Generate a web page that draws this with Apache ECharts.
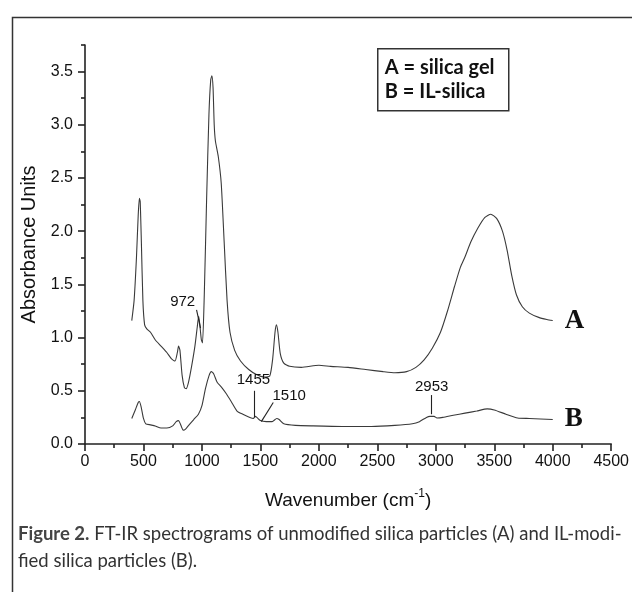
<!DOCTYPE html>
<html>
<head>
<meta charset="utf-8">
<script src="https://cdn.jsdelivr.net/npm/echarts@6/dist/echarts.min.js"></script>
<style>
html,body{margin:0;padding:0;background:#fff;}
#chart{width:632px;height:592px;}
</style>
</head>
<body>
<div id="chart"></div>
<script>
// Curve A (silica gel)
var wavenumberA = [400,420,440,455,465,472,482,495,510,530,560,600,650,700,740,770,790,800,812,830,850,865,885,910,940,960,972,982,995,1005,1020,1040,1060,1075,1085,1095,1105,1115,1140,1165,1190,1215,1240,1280,1330,1400,1470,1530,1580,1605,1625,1637,1650,1670,1700,1750,1850,2000,2100,2250,2400,2550,2650,2750,2830,2900,2970,3040,3100,3160,3210,3250,3300,3360,3420,3470,3520,3570,3610,3650,3690,3740,3800,3880,3950,4000];
var absorbanceA = [1.16,1.35,1.75,2.15,2.31,2.28,1.9,1.35,1.12,1.08,1.05,0.98,0.92,0.86,0.80,0.78,0.86,0.92,0.88,0.65,0.53,0.52,0.58,0.72,0.92,1.10,1.20,1.12,0.98,0.95,1.4,2.3,3.1,3.42,3.46,3.35,3.0,2.85,2.7,2.45,1.9,1.35,1.05,0.88,0.78,0.70,0.65,0.63,0.64,0.8,1.05,1.12,1.05,0.85,0.76,0.73,0.72,0.74,0.73,0.72,0.70,0.68,0.67,0.68,0.72,0.79,0.90,1.05,1.25,1.48,1.66,1.76,1.90,2.03,2.13,2.16,2.12,2.0,1.82,1.58,1.40,1.29,1.23,1.19,1.17,1.16];
// Curve B (IL-silica)
var wavenumberB = [400,430,455,465,480,500,520,560,600,650,700,750,780,800,815,840,860,890,930,970,1000,1030,1060,1080,1100,1130,1170,1210,1250,1300,1350,1410,1440,1455,1470,1500,1550,1600,1640,1660,1700,1800,1950,2200,2450,2650,2800,2860,2920,2950,2985,3010,3060,3150,3250,3350,3440,3500,3600,3700,3800,4000];
var absorbanceB = [0.24,0.32,0.39,0.40,0.35,0.24,0.19,0.18,0.17,0.15,0.15,0.17,0.21,0.22,0.19,0.13,0.14,0.18,0.23,0.28,0.36,0.52,0.64,0.68,0.66,0.58,0.53,0.47,0.40,0.31,0.28,0.25,0.24,0.26,0.25,0.22,0.21,0.21,0.24,0.23,0.19,0.175,0.17,0.165,0.165,0.175,0.19,0.21,0.25,0.26,0.26,0.245,0.25,0.27,0.29,0.31,0.33,0.32,0.28,0.245,0.24,0.23];
var seriesNames = ['A','B'];
// Peak annotations
var annotLabels = ['972','1455','1510','2953'];
var annotLineFrom = [[988,1.09],[1448,0.25],[1508,0.21],[2964,0.28]];
var annotLineTo = [[954,1.26],[1448,0.50],[1610,0.39],[2964,0.46]];
var annotTextAt = [[835,1.34],[1440,0.60],[1746,0.45],[2965,0.54]];
// Axis ticks
var xMajorTicks = [0,500,1000,1500,2000,2500,3000,3500,4000,4500];
var yMajorTicks = [0,0.5,1.0,1.5,2.0,2.5,3.0,3.5];
var yMinorTicks = [0.25,0.75,1.25,1.75,2.25,2.75,3.25,3.75];
var legendLines = ['A = silica gel','B = IL-silica'];
var captionBold = 'Figure 2.';
var captionLine1 = ' FT-IR spectrograms of unmodified silica particles (A) and IL-modi-';
var captionLine2 = 'fied silica particles (B).';

function zip(xs, ys){ return xs.map(function(x,i){ return [x, ys[i]]; }); }

var lineColor = '#3a3a3a';
var chart = echarts.init(document.getElementById('chart'), null, {renderer:'canvas'});
var axisFont = {fontFamily:'Liberation Sans, Arial, sans-serif', fontSize:16, color:'#111'};

var markLineData = annotLineFrom.map(function(p,i){
  return [{coord:p},{coord:annotLineTo[i]}];
});
var markPointData = annotTextAt.map(function(p,i){
  return {coord:p, value:annotLabels[i]};
});

var option = {
  animation:false,
  backgroundColor:'#fff',
  grid:{left:85, right:19, top:45, bottom:148, containLabel:false},
  xAxis:{
    type:'value', min:0, max:4500, interval:500,
    name:'{a|Wavenumber (cm}{s|-1}{a|)}', nameLocation:'middle', nameGap:44,
    nameTextStyle:{rich:{
      a:{fontFamily:'Liberation Sans, Arial, sans-serif', fontSize:19, color:'#111', verticalAlign:'bottom', lineHeight:22},
      s:{fontFamily:'Liberation Sans, Arial, sans-serif', fontSize:12, color:'#111', verticalAlign:'top', lineHeight:22, padding:[0,0,9,0]}
    }},
    axisLine:{show:true, lineStyle:{color:'#222', width:1.6}},
    axisTick:{show:true, inside:false, length:7, lineStyle:{color:'#222', width:1.6}},
    minorTick:{show:true, splitNumber:2, length:4, lineStyle:{color:'#222', width:1.6}},
    axisLabel:Object.assign({margin:10, customValues:xMajorTicks, formatter:function(v){return String(v);}}, axisFont),
    splitLine:{show:false}, minorSplitLine:{show:false}
  },
  yAxis:[{
    type:'value', min:0, max:3.75, interval:0.5,
    name:'Absorbance Units', nameLocation:'middle', nameGap:46,
    nameTextStyle:{fontFamily:'Liberation Sans, Arial, sans-serif', fontSize:20, color:'#111'},
    axisLine:{show:true, lineStyle:{color:'#222', width:1.6}},
    axisTick:{show:true, length:7, customValues:yMajorTicks, lineStyle:{color:'#222', width:1.6}},
    axisLabel:Object.assign({margin:12, customValues:yMajorTicks, formatter:function(v){return v.toFixed(1);}}, axisFont),
    splitLine:{show:false}
  },{
    type:'value', min:0, max:3.75, position:'left',
    axisLine:{show:false},
    axisTick:{show:true, length:4, customValues:yMinorTicks, lineStyle:{color:'#222', width:1.6}},
    axisLabel:{show:false},
    splitLine:{show:false}
  }],
  series:[{
    name:seriesNames[0], type:'line', data:zip(wavenumberA, absorbanceA),
    showSymbol:false, smooth:0.2,
    lineStyle:{color:lineColor, width:1.1},
    endLabel:{show:true, formatter:'A', distance:12, fontFamily:'Liberation Serif, serif', fontWeight:'bold', fontSize:27, color:'#111'},
    markLine:{silent:true, symbol:'none', animation:false,
      lineStyle:{color:'#222', width:1.1, type:'solid'}, label:{show:false},
      data:markLineData},
    markPoint:{symbol:'circle', symbolSize:0, silent:true,
      label:{show:true, formatter:function(p){return p.value;}, position:'inside', fontFamily:'Liberation Sans, Arial, sans-serif', fontSize:15, color:'#111'},
      data:markPointData}
  },{
    name:seriesNames[1], type:'line', data:zip(wavenumberB, absorbanceB),
    showSymbol:false, smooth:0.2,
    lineStyle:{color:lineColor, width:1.1},
    endLabel:{show:true, formatter:'B', distance:12, fontFamily:'Liberation Serif, serif', fontWeight:'bold', fontSize:27, color:'#111'}
  }],
  graphic:[
    {type:'rect', left:10, top:15, shape:{width:700, height:700},
     style:{fill:'none', stroke:'#333', lineWidth:1.5}, silent:true, z:-10},
    {type:'group', left:377, top:48, children:[
      {type:'rect', shape:{x:0,y:0,width:131,height:62}, style:{fill:'#fff', stroke:'#333', lineWidth:1.5}},
      {type:'text', x:7, y:9, style:{text:legendLines[0], font:'bold 20px Lato, "Open Sans", sans-serif', fill:'#111'}},
      {type:'text', x:7, y:33, style:{text:legendLines[1], font:'bold 20px Lato, "Open Sans", sans-serif', fill:'#111'}}
    ]},
    {type:'text', left:18, top:525, style:{
      text:'{b|'+captionBold+'}{r|'+captionLine1+'}\n{r|'+captionLine2+'}',
      rich:{
        b:{font:'bold 18.5px Lato, "Open Sans", sans-serif', fill:'#444', lineHeight:27},
        r:{font:'18.5px Lato, "Open Sans", sans-serif', fill:'#333', lineHeight:27}
      }
    }}
  ]
};
chart.setOption(option);
</script>
</body>
</html>
